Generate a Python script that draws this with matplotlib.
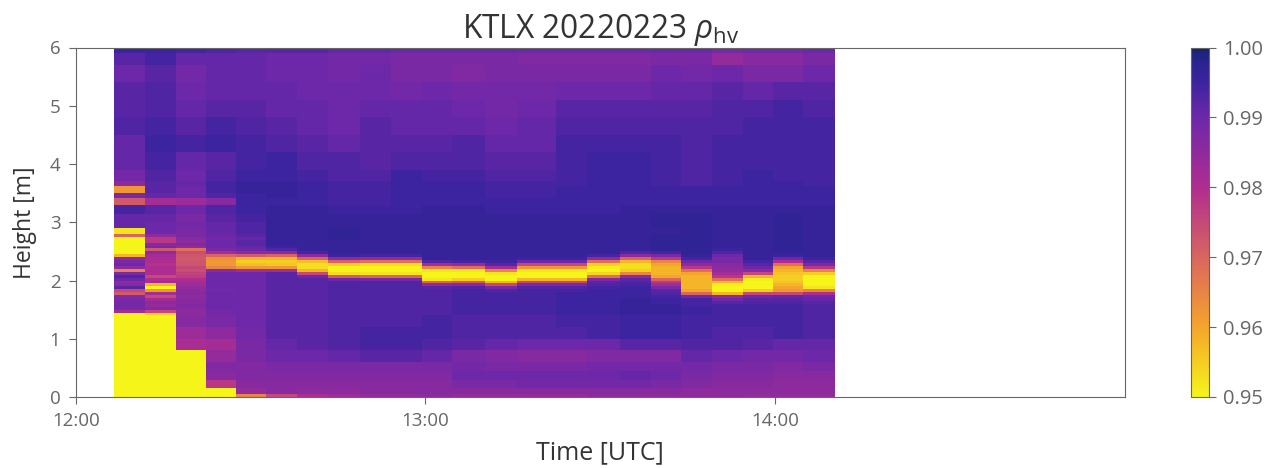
import numpy as np
import matplotlib
matplotlib.use("Agg")
import matplotlib.pyplot as plt
from matplotlib.colors import LinearSegmentedColormap

plt.rcParams["font.family"] = ["Open Sans", "DejaVu Sans"]
plt.rcParams["mathtext.fontset"] = "custom"
plt.rcParams["mathtext.rm"] = "Open Sans"
plt.rcParams["mathtext.it"] = "Open Sans:italic"

# ── data ─────────────────────────────────────────────────────────────────────

# scan edges, minutes after 12:00
time_edges = [6.6, 11.9, 17.2, 22.3, 27.5, 32.6, 38.0, 43.3, 48.8, 54.1, 59.4, 64.5,
              70.2, 75.7, 82.4, 87.7, 93.4, 98.7, 103.8, 109.1, 114.4, 119.6, 124.7, 130.2]

# height edges in km
low_edges = [0, 0.05, 0.15, 0.3, 0.45, 0.6, 0.8, 1.0, 1.2]
band_edges = [1.40, 1.45, 1.50, 1.55, 1.60, 1.65, 1.70, 1.75, 1.80, 1.85, 1.90, 1.95, 2.00, 2.05,
              2.10, 2.15, 2.20, 2.25, 2.30, 2.35, 2.40, 2.45, 2.50, 2.55, 2.60, 2.65, 2.70, 2.75]
up_edges = [2.8, 2.9, 3.0, 3.15, 3.3, 3.42, 3.5, 3.62, 3.7, 3.9, 4.2, 4.5, 4.8, 5.1, 5.4, 5.7, 5.9, 6.0]

# rho_hv x 1000, one list per scan, bottom to top
rho_low = [
    [950, 950, 950, 950, 950, 950, 950, 950, 950],
    [950, 950, 950, 950, 950, 950, 950, 950, 950],
    [950, 950, 950, 950, 950, 950, 981, 983, 986],
    [950, 950, 978, 986, 987, 984, 982, 985, 988],
    [965, 984, 986, 987, 987, 988, 988, 989, 990],
    [975, 986, 986, 987, 988, 990, 991, 992, 992],
    [980, 985, 986, 987, 988, 990, 992, 992, 992],
    [983, 985, 986, 987, 988, 991, 993, 993, 993],
    [984, 986, 986, 987, 988, 992, 994, 994, 993],
    [984, 986, 986, 987, 988, 992, 994, 994, 993],
    [985, 986, 986, 987, 988, 991, 993, 994, 994],
    [984, 986, 988, 990, 989, 988, 992, 993, 993],
    [984, 986, 988, 990, 988, 987, 991, 993, 993],
    [984, 986, 989, 990, 988, 986, 990, 993, 993],
    [984, 986, 989, 990, 988, 986, 990, 993, 994],
    [985, 986, 989, 990, 989, 987, 990, 994, 994],
    [985, 986, 989, 991, 989, 987, 992, 995, 995],
    [985, 986, 988, 990, 989, 987, 992, 995, 995],
    [985, 985, 987, 988, 989, 991, 993, 994, 994],
    [985, 985, 986, 987, 988, 990, 993, 993, 994],
    [984, 985, 986, 987, 988, 989, 992, 993, 994],
    [984, 985, 985, 986, 987, 989, 991, 994, 994],
    [984, 985, 985, 986, 988, 990, 991, 993, 993],
]
rho_band = [
    [950, 982, 988, 989, 989, 988, 987, 972, 975, 992, 986, 985, 990, 993, 988, 965, 985, 990, 988, 985, 958, 950, 950, 950, 950, 950, 950, 970],
    [955, 975, 986, 984, 985, 982, 975, 982, 962, 950, 958, 982, 980, 975, 980, 981, 980, 979, 980, 981, 982, 985, 972, 988, 986, 978, 978, 985],
    [985, 985, 986, 987, 986, 986, 985, 986, 985, 984, 983, 982, 980, 977, 976, 974, 975, 973, 973, 972, 973, 974, 968, 984, 987, 985, 986, 988],
    [989, 989, 990, 990, 990, 990, 990, 990, 989, 990, 990, 990, 990, 990, 990, 985, 965, 962, 962, 963, 970, 982, 988, 990, 990, 990, 989, 990],
    [990, 990, 990, 990, 990, 990, 990, 990, 990, 990, 990, 990, 990, 990, 990, 982, 962, 957, 955, 958, 972, 985, 990, 991, 992, 992, 991, 992],
    [992, 992, 992, 992, 992, 992, 992, 992, 992, 992, 992, 992, 992, 992, 992, 982, 962, 956, 955, 958, 970, 985, 993, 995, 996, 996, 996, 996],
    [992, 992, 992, 992, 992, 992, 992, 992, 992, 992, 992, 992, 992, 990, 975, 958, 953, 953, 957, 970, 985, 994, 996, 996, 996, 996, 996, 996],
    [993, 993, 993, 993, 993, 993, 993, 993, 993, 993, 993, 993, 990, 972, 953, 950, 950, 955, 970, 985, 995, 996, 996, 996, 996, 996, 997, 997],
    [993, 993, 993, 993, 993, 993, 993, 993, 993, 993, 993, 993, 989, 970, 952, 950, 950, 953, 968, 984, 994, 996, 996, 996, 996, 996, 996, 996],
    [993, 993, 993, 993, 993, 993, 993, 993, 993, 993, 993, 993, 989, 970, 952, 950, 950, 953, 968, 984, 994, 996, 996, 996, 996, 996, 996, 996],
    [993, 993, 993, 993, 993, 993, 993, 993, 993, 992, 985, 970, 952, 950, 950, 952, 965, 982, 993, 996, 996, 996, 996, 996, 996, 996, 996, 996],
    [994, 994, 994, 994, 994, 994, 994, 994, 994, 993, 986, 972, 955, 950, 950, 952, 968, 984, 994, 996, 996, 996, 996, 996, 996, 996, 996, 996],
    [994, 994, 994, 994, 994, 994, 994, 994, 993, 988, 975, 958, 950, 950, 952, 965, 982, 992, 995, 996, 996, 996, 996, 996, 996, 996, 996, 996],
    [994, 994, 994, 994, 994, 994, 994, 994, 994, 993, 988, 975, 958, 950, 950, 952, 962, 975, 990, 995, 996, 996, 996, 996, 996, 996, 996, 996],
    [995, 995, 995, 995, 995, 995, 995, 995, 994, 993, 988, 975, 958, 950, 950, 952, 962, 975, 990, 995, 996, 996, 996, 996, 996, 996, 996, 996],
    [995, 995, 995, 995, 995, 995, 995, 995, 995, 994, 993, 992, 987, 968, 954, 950, 951, 955, 968, 985, 994, 996, 996, 996, 996, 996, 996, 996],
    [996, 996, 996, 996, 996, 996, 995, 995, 995, 995, 994, 993, 992, 985, 965, 955, 953, 953, 958, 970, 985, 993, 996, 996, 996, 996, 996, 996],
    [996, 996, 996, 996, 995, 995, 994, 993, 992, 988, 983, 978, 970, 960, 958, 958, 958, 960, 965, 978, 988, 994, 997, 997, 997, 997, 997, 997],
    [995, 995, 995, 994, 994, 994, 990, 970, 960, 958, 958, 958, 958, 958, 960, 968, 978, 985, 990, 994, 996, 997, 997, 997, 997, 997, 997, 997],
    [994, 994, 994, 994, 992, 990, 985, 958, 950, 950, 951, 958, 968, 978, 982, 984, 985, 986, 988, 988, 990, 993, 995, 996, 996, 996, 996, 996],
    [994, 994, 994, 994, 993, 992, 990, 975, 955, 950, 950, 950, 951, 958, 975, 985, 990, 992, 994, 996, 996, 996, 996, 996, 996, 996, 996, 996],
    [994, 994, 994, 994, 993, 992, 991, 975, 962, 960, 958, 956, 955, 955, 956, 958, 960, 968, 980, 990, 995, 996, 997, 997, 997, 997, 997, 997],
    [993, 993, 993, 993, 992, 991, 990, 980, 965, 952, 950, 950, 950, 950, 955, 965, 978, 988, 992, 995, 996, 996, 996, 996, 996, 996, 996, 996],
]
rho_up = [
    [952, 991, 991, 994, 972, 988, 962, 985, 989, 991, 991, 993, 992, 992, 990, 992, 995],
    [990, 990, 991, 992, 982, 991, 992, 992, 993, 994, 995, 994, 993, 993, 992, 994, 995],
    [988, 989, 988, 990, 983, 990, 990, 991, 990, 991, 994, 992, 991, 990, 989, 991, 994],
    [991, 991, 992, 993, 986, 993, 994, 994, 993, 992, 995, 994, 992, 991, 991, 991, 993],
    [993, 993, 994, 995, 995, 995, 996, 996, 995, 994, 994, 993, 992, 991, 991, 991, 992],
    [996, 996, 996, 996, 995, 996, 996, 996, 995, 995, 993, 992, 991, 991, 990, 990, 992],
    [996, 996, 996, 996, 995, 995, 995, 995, 994, 993, 992, 991, 991, 990, 990, 990, 992],
    [997, 996, 996, 995, 994, 994, 994, 994, 993, 993, 991, 990, 990, 990, 989, 989, 991],
    [996, 996, 996, 995, 994, 994, 994, 994, 993, 992, 992, 992, 991, 990, 990, 989, 991],
    [996, 996, 996, 995, 995, 995, 995, 995, 995, 993, 992, 991, 991, 989, 988, 988, 990],
    [996, 996, 996, 996, 995, 995, 995, 995, 994, 993, 992, 991, 991, 990, 988, 988, 990],
    [996, 996, 996, 996, 995, 995, 995, 995, 994, 993, 993, 991, 990, 989, 987, 988, 990],
    [996, 996, 996, 995, 995, 994, 994, 994, 993, 992, 991, 990, 989, 989, 988, 988, 990],
    [996, 996, 996, 995, 995, 994, 994, 994, 993, 992, 991, 991, 990, 989, 988, 987, 990],
    [996, 996, 996, 995, 995, 995, 995, 994, 994, 994, 994, 993, 992, 990, 988, 987, 990],
    [996, 996, 996, 995, 995, 995, 995, 995, 995, 995, 994, 993, 992, 990, 988, 987, 990],
    [996, 996, 996, 996, 995, 995, 995, 995, 995, 995, 994, 993, 992, 990, 988, 987, 990],
    [996, 997, 997, 996, 995, 995, 995, 994, 994, 994, 994, 993, 992, 991, 990, 988, 990],
    [997, 997, 997, 996, 995, 995, 995, 993, 993, 993, 993, 993, 992, 991, 989, 988, 990],
    [996, 996, 996, 996, 995, 995, 995, 994, 994, 994, 994, 993, 993, 992, 990, 984, 988],
    [996, 996, 996, 996, 995, 995, 995, 995, 995, 994, 994, 994, 993, 991, 988, 986, 989],
    [997, 997, 997, 996, 995, 995, 995, 995, 994, 994, 994, 994, 994, 992, 988, 986, 989],
    [996, 996, 996, 996, 995, 995, 995, 994, 994, 994, 994, 994, 993, 992, 990, 988, 990],
]

time_ticks = [0, 60, 120]
time_labels = ["12:00", "13:00", "14:00"]
cbar_ticks = [0.95, 0.96, 0.97, 0.98, 0.99, 1.00]

# ── figure ───────────────────────────────────────────────────────────────────

rho = np.hstack([np.array(rho_low), np.array(rho_band), np.array(rho_up)]).T / 1000
height_edges = low_edges + band_edges + up_edges

cmap = LinearSegmentedColormap.from_list("rhohv", [
    (0.0, "#f5f51a"), (0.2, "#f5a42c"), (0.4, "#d9655f"), (0.6, "#b02d90"),
    (0.8, "#6c28a9"), (0.9, "#3d23a0"), (0.96, "#2a2390"), (1.0, "#14246e")])

GREY = "#666666"
W, H = 1267, 468
fig = plt.figure(figsize=(W / 100, H / 100), dpi=100)
ax = fig.add_axes([75.7 / W, 1 - 397 / H, (1125 - 75.7) / W, (397 - 47.5) / H])
cax = fig.add_axes([1191 / W, 1 - 397 / H, 18 / W, (397 - 47.5) / H])

mesh = ax.pcolormesh(time_edges, height_edges, rho, cmap=cmap, vmin=0.95, vmax=1.0, shading="flat")
ax.set_xlim(0, 180)
ax.set_ylim(0, 6)
ax.set_xticks(time_ticks)
ax.set_xticklabels(time_labels)
ax.tick_params(labelsize=13.5, colors=GREY, length=5)
ax.tick_params(axis="x", pad=6)
ax.tick_params(axis="y", pad=6)
ax.set_xlabel("Time [UTC]", fontsize=18, color="#333333", labelpad=7)
ax.set_ylabel("Height [m]", fontsize=16.5, color="#333333", labelpad=9)
ax.set_title(r"KTLX 20220223 $\rho_{\mathrm{hv}}$", fontsize=22.8, color="#333333", pad=5)

cb = fig.colorbar(mesh, cax=cax, ticks=cbar_ticks)
cb.ax.set_yticklabels([f"{t:.2f}" for t in cbar_ticks])
cb.ax.tick_params(labelsize=14.5, colors=GREY, length=5, pad=5)
for spine in list(ax.spines.values()) + list(cb.ax.spines.values()):
    spine.set_edgecolor(GREY)

fig.savefig("out.png", dpi=100)
